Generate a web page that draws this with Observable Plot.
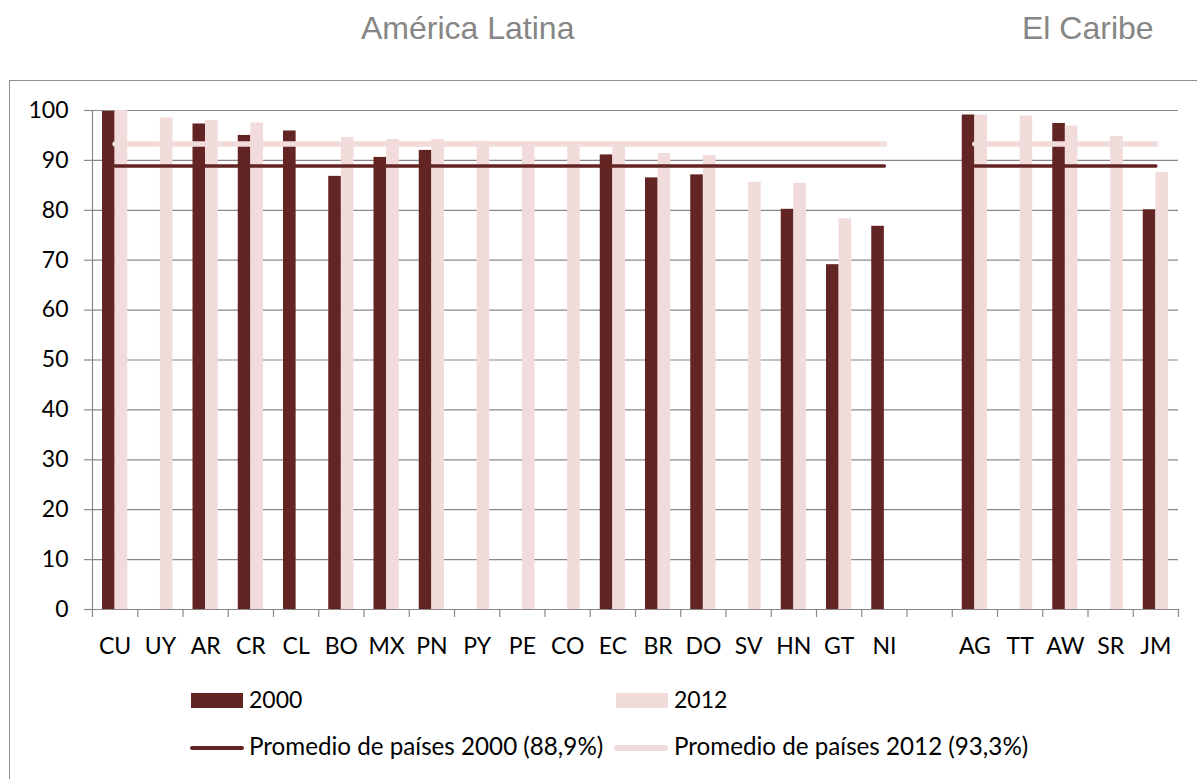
<!DOCTYPE html>
<html>
<head>
<meta charset="utf-8">
<script src="https://cdn.jsdelivr.net/npm/d3@7"></script>
<script src="https://cdn.jsdelivr.net/npm/@observablehq/plot@0.6"></script>
<style>
  body { margin: 0; background: #fff; }
  #wrap { position: relative; width: 1197px; height: 779px; overflow: hidden; background: #fff; font-family: Lato, sans-serif; }
  #chart { position: absolute; left: 0; top: 0; }
  .title { position: absolute; font-family: "Liberation Sans", Arial, sans-serif; font-size: 32px; line-height: 32px; color: #868686; white-space: nowrap; }
  .frame { position: absolute; left: 9px; top: 80px; width: 1210px; height: 720px; border: 1.5px solid #8c8c8c; box-sizing: border-box; pointer-events: none; }
  .sw { position: absolute; height: 15px; width: 52px; }
  .ln { position: absolute; width: 54px; border-radius: 3px; }
  .lt { position: absolute; font-family: Lato, sans-serif; font-size: 23px; line-height: 30px; color: #000; white-space: nowrap; }
  .lt.long { font-size: 24.2px; }
</style>
</head>
<body>
<div id="wrap">
  <div id="chart"></div>
  <div class="frame"></div>
  <div class="title" style="left:361px; top:12px;">América Latina</div>
  <div class="title" style="left:1022px; top:12px;">El Caribe</div>
  <div class="sw" style="left:191px; top:693px; background:#632523;"></div>
  <div class="lt" style="left:249px; top:684px;">2000</div>
  <div class="sw" style="left:616px; top:693px; background:#f2dcdb;"></div>
  <div class="lt" style="left:674px; top:684px;">2012</div>
  <div class="ln" style="left:190px; top:746px; height:4px; background:#632523;"></div>
  <div class="lt long" style="left:249px; top:731px;">Promedio de países 2000 (88,9%)</div>
  <div class="ln" style="left:614px; top:745px; height:6px; background:#f2dcdb;"></div>
  <div class="lt long" style="left:674px; top:731px;">Promedio de países 2012 (93,3%)</div>
</div>
<script>
// ---- data ----
const latin = ["CU","UY","AR","CR","CL","BO","MX","PN","PY","PE","CO","EC","BR","DO","SV","HN","GT","NI"];
const latin2000 = [99.8, null, 97.3, 95.0, 95.9, 86.8, 90.6, 92.0, null, null, null, 91.1, 86.5, 87.1, null, 80.2, 69.1, 76.8];
const latin2012 = [100, 98.5, 98.0, 97.5, null, 94.6, 94.2, 94.2, 93.8, 93.7, 93.6, 93.5, 91.4, 91.0, 85.6, 85.4, 78.3, null];
const caribe = ["AG","TT","AW","SR","JM"];
const caribe2000 = [99.1, null, 97.4, null, 80.1];
const caribe2012 = [99.1, 98.9, 96.9, 94.8, 87.6];
const avg2000 = 88.9;
const avg2012 = 93.3;
const gap = " ";
const yTicks = [0, 10, 20, 30, 40, 50, 60, 70, 80, 90, 100];

// ---- build ----
const domain = [...latin, gap, ...caribe];
const rows = (names, vals) => names.map((c, i) => ({country: c, value: vals[i]})).filter(d => d.value != null);
const bars2000 = [...rows(latin, latin2000), ...rows(caribe, caribe2000)];
const bars2012 = [...rows(latin, latin2012), ...rows(caribe, caribe2012)];
const avgLine = (names, v, group) => [{country: names[0], value: v, g: group}, {country: names[names.length - 1], value: v, g: group}];
const line2000 = [...avgLine(latin, avg2000, "L"), ...avgLine(caribe, avg2000, "C")];
const line2012 = [...avgLine(latin, avg2012, "L"), ...avgLine(caribe, avg2012, "C")];

const W = 1197, H = 779, ML = 92, MR = 19, MT = 110, MB = 170;
const step = (W - ML - MR) / domain.length;
const dark = "#632523", pink = "#f2dcdb", grey = "#888888";

const chart = Plot.plot({
  width: W, height: H,
  marginLeft: ML, marginRight: MR, marginTop: MT, marginBottom: MB,
  style: {fontFamily: "Lato, sans-serif", fontSize: "23px", background: "transparent", color: "#000"},
  x: {type: "band", domain, paddingInner: 0, paddingOuter: 0, round: false, label: null, axis: null},
  y: {domain: [0, 100], label: null, axis: null},
  marks: [
    Plot.gridY(yTicks, {stroke: grey, strokeOpacity: 1, strokeWidth: 1.2}),
    Plot.ruleX([domain[0]], {y1: 0, y2: 100, dx: -step / 2, stroke: grey, strokeWidth: 1.2}),
    Plot.barY(bars2000, {x: "country", y: "value", fill: dark, insetLeft: 10, insetRight: step / 2}),
    Plot.barY(bars2012, {x: "country", y: "value", fill: pink, insetLeft: step / 2, insetRight: 10}),
    Plot.lineY(line2012, {x: "country", y: "value", z: "g", stroke: pink, strokeWidth: 5.5, strokeLinecap: "round"}),
    Plot.lineY(line2000, {x: "country", y: "value", z: "g", stroke: dark, strokeWidth: 3.5, strokeLinecap: "round"}),
    Plot.axisY({ticks: yTicks, tickSize: 8, tickPadding: 16, stroke: grey, strokeWidth: 1.2, fill: "#000", label: null}),
    Plot.axisX({ticks: domain, tickSize: 8, dx: -step / 2, tickFormat: () => "", stroke: grey, strokeWidth: 1.2, label: null}),
    Plot.axisX({ticks: [domain[domain.length - 1]], tickSize: 8, dx: step / 2, tickFormat: () => "", stroke: grey, strokeWidth: 1.2, label: null}),
    Plot.axisX({ticks: domain.filter(d => d !== gap), tickSize: 0, tickPadding: 28, fill: "#000", label: null})
  ]
});
document.getElementById("chart").appendChild(chart);
</script>
</body>
</html>
